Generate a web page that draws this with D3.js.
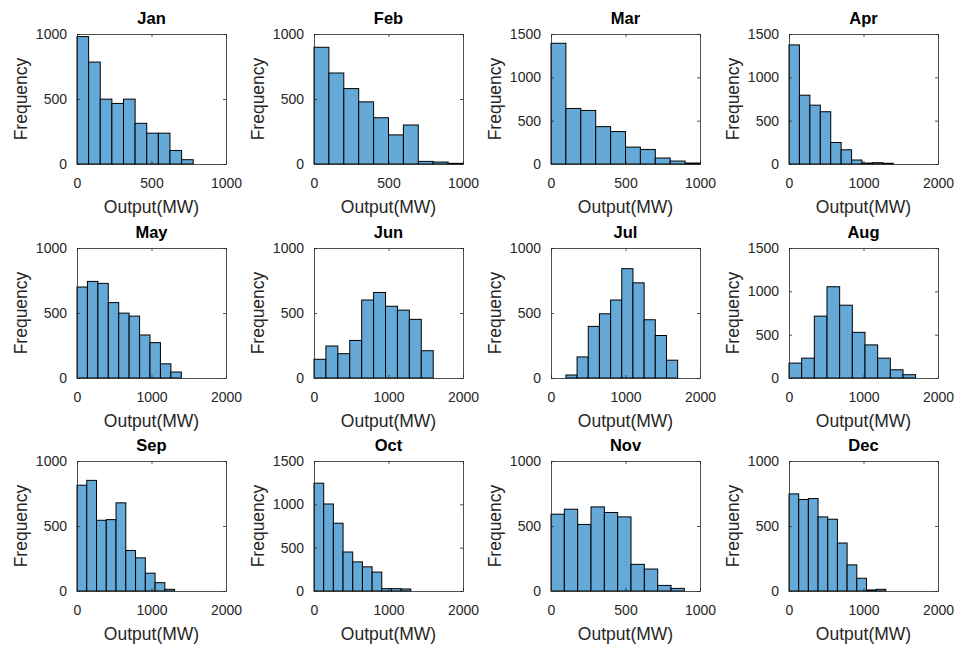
<!DOCTYPE html>
<html>
<head>
<meta charset="utf-8">
<script src="https://cdn.jsdelivr.net/npm/d3@7"></script>
<style>
  html, body { margin: 0; padding: 0; background: #fff; }
  svg { display: block; font-family: "Liberation Sans", Arial, sans-serif; }
</style>
</head>
<body>
<svg id="chart" width="959" height="646"></svg>
<script>
// Monthly histograms of power output
const months = ["Jan","Feb","Mar","Apr","May","Jun","Jul","Aug","Sep","Oct","Nov","Dec"];
const xMax = [1000, 1000, 1000, 2000, 2000, 2000, 2000, 2000, 2000, 2000, 1000, 2000];
const yMax = [1000, 1000, 1500, 1500, 1000, 1000, 1000, 1500, 1000, 1500, 1000, 1000];
const binStart = [0, 0, 0, 0, 0, 0, 200, 0, 0, 0, 0, 0];
const binWidth = [78, 100, 100, 140, 140, 160, 150, 170, 131, 130, 89.5, 130];
const counts = [
  [980, 784, 499, 466, 499, 313, 237, 237, 104, 33],
  [898, 700, 580, 478, 356, 224, 300, 20, 15, 5],
  [1393, 641, 618, 431, 374, 195, 168, 69, 34, 11],
  [1374, 794, 679, 603, 248, 164, 46, 11, 15, 8],
  [700, 743, 728, 580, 499, 476, 331, 272, 109, 46],
  [144, 246, 187, 289, 600, 658, 552, 522, 451, 210],
  [23, 162, 397, 494, 600, 841, 732, 448, 327, 137],
  [172, 229, 714, 1053, 840, 527, 382, 229, 95, 38],
  [814, 851, 544, 549, 678, 312, 255, 137, 64, 13],
  [1244, 1004, 782, 450, 336, 279, 218, 27, 27, 23],
  [591, 629, 512, 647, 604, 570, 205, 169, 43, 20],
  [747, 704, 711, 570, 552, 369, 201, 98, 8, 13]
];
const xTickStep = { 1000: 500, 2000: 1000 };
const yTickStep = 500;
const xLabel = "Output(MW)";
const yLabel = "Frequency";

// Layout of the 3x4 grid of axes
const colLeft = [77, 314, 551, 789];
const rowTop = [34, 248, 461];
const plotW = 149, plotH = 130;
const ink = "#262626";
const barFill = "#64A9D7";

const svg = d3.select("#chart");

months.forEach((m, i) => {
  const r = Math.floor(i / 4), c = i % 4;
  const g = svg.append("g").attr("transform", `translate(${colLeft[c]},${rowTop[r]})`);

  const x = d3.scaleLinear().domain([0, xMax[i]]).range([0, plotW]);
  const y = d3.scaleLinear().domain([0, yMax[i]]).range([plotH, 0]);
  const xt = d3.range(0, xMax[i] + 1, xTickStep[xMax[i]]);
  const yt = d3.range(0, yMax[i] + 1, yTickStep);

  // bars
  const bins = counts[i].map((v, k) => ({
    x0: binStart[i] + k * binWidth[i],
    x1: binStart[i] + (k + 1) * binWidth[i],
    v
  }));
  g.selectAll("rect.bar").data(bins).join("rect")
    .attr("class", "bar")
    .attr("x", d => x(d.x0))
    .attr("width", d => x(d.x1) - x(d.x0))
    .attr("y", d => y(d.v))
    .attr("height", d => y(0) - y(d.v))
    .attr("fill", barFill)
    .attr("stroke", "#000")
    .attr("stroke-width", 1);

  // axes with inward ticks on all four sides
  const styleAxis = sel => {
    sel.select(".domain").attr("stroke", ink).attr("stroke-width", 0.8);
    sel.selectAll(".tick line").attr("stroke", ink).attr("stroke-width", 0.8);
    sel.selectAll(".tick text").attr("fill", ink).attr("font-size", 14);
  };
  g.append("g").attr("transform", `translate(0,${plotH})`)
    .call(d3.axisBottom(x).tickValues(xt).tickSizeInner(-3).tickSizeOuter(0).tickPadding(14).tickFormat(d3.format("d")))
    .call(styleAxis);
  g.append("g")
    .call(d3.axisLeft(y).tickValues(yt).tickSizeInner(-3).tickSizeOuter(0).tickPadding(10).tickFormat(d3.format("d")))
    .call(styleAxis);
  g.append("g")
    .call(d3.axisTop(x).tickValues(xt).tickSizeInner(-3).tickSizeOuter(0).tickFormat(""))
    .call(styleAxis);
  g.append("g").attr("transform", `translate(${plotW},0)`)
    .call(d3.axisRight(y).tickValues(yt).tickSizeInner(-3).tickSizeOuter(0).tickFormat(""))
    .call(styleAxis);

  // title and labels
  g.append("text")
    .attr("x", plotW / 2).attr("y", -10)
    .attr("text-anchor", "middle")
    .attr("font-size", 16.5).attr("font-weight", "bold").attr("fill", "#000")
    .text(m);
  g.append("text")
    .attr("x", plotW / 2).attr("y", plotH + 49)
    .attr("text-anchor", "middle")
    .attr("font-size", 17.5).attr("fill", ink)
    .text(xLabel);
  g.append("text")
    .attr("transform", `translate(-50,${plotH / 2}) rotate(-90)`)
    .attr("text-anchor", "middle")
    .attr("font-size", 17.5).attr("fill", ink)
    .text(yLabel);
});
</script>
</body>
</html>
